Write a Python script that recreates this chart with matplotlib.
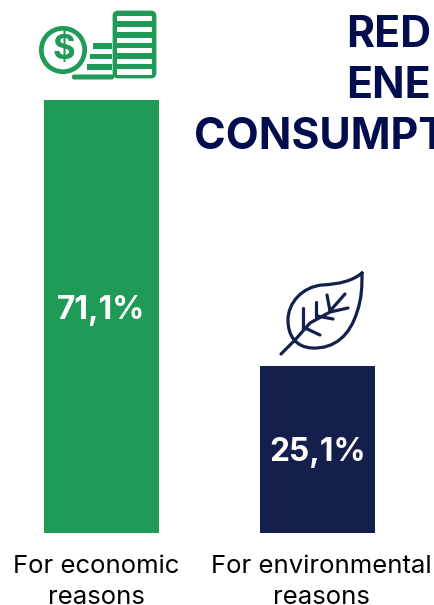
import matplotlib
matplotlib.use('Agg')
import matplotlib.pyplot as plt
from matplotlib.patches import Circle, FancyBboxPatch, Rectangle, PathPatch
from matplotlib.path import Path

categories = ['For economic\nreasons', 'For environmental\nreasons']
values = [71.1, 25.1]
value_labels = ['71,1%', '25,1%']
title_lines = ['RED', 'ENE', 'CONSUMPT']

GREEN = '#1f9b57'
NAVY = '#151f4b'
TITLE_NAVY = '#020d4d'
W, H = 434, 605

plt.rcParams['font.family'] = ['Inter', 'DejaVu Sans']

fig = plt.figure(figsize=(W / 100, H / 100), dpi=100)

# the bars sit on a baseline below zero
baseline = -3.9
ax = fig.add_axes([0, (H - 533) / H, 1, 433 / H])
ax.bar([0, 1], [v - baseline for v in values], bottom=baseline,
       width=115 / 216, color=[GREEN, NAVY])
ax.set_xlim(-101.5 / 216, (W - 101.5) / 216)
ax.set_ylim(baseline, max(values))
ax.axis('off')

# overlay in pixel coordinates for the icons and free text
ov = fig.add_axes([0, 0, 1, 1])
ov.set_xlim(0, W)
ov.set_ylim(H, 0)
ov.axis('off')
ov.patch.set_alpha(0)

for label, x, y in zip(value_labels, [101, 318], [310, 453]):
    ov.text(x, y, label, color='white', fontsize=22.8, fontweight='bold',
            ha='center', va='center')

for line, x, y in zip(title_lines, [346.5, 346.5, 193.5], [47, 98, 149]):
    ov.text(x, y, line, color=TITLE_NAVY, fontsize=30.8, fontweight='bold',
            ha='left', va='baseline')

for i, cat in enumerate(categories):
    first, second = cat.split('\n')
    xc = [96.5, 321][i]
    ov.text(xc, 573, first, color='black', fontsize=18.5, ha='center', va='baseline')
    ov.text(xc, 604, second, color='black', fontsize=18.5, ha='center', va='baseline')

# coin stack icon
ov.add_patch(FancyBboxPatch((114, 12), 41, 65, boxstyle='round,pad=0,rounding_size=4',
                            fc=GREEN, ec=GREEN, lw=2))
for top, bot in [(16, 21), (27, 32), (37.5, 43), (48, 53), (59, 64), (69, 75)]:
    ov.add_patch(Rectangle((117, top), 35, bot - top, fc='white', ec='none'))
for x0, y0 in [(93, 43), (90, 53.5), (87, 64)]:
    ov.add_patch(Rectangle((x0, y0), 112 - x0, 5.5, fc=GREEN, ec='none'))
ov.add_patch(FancyBboxPatch((72, 74.5), 42, 5, boxstyle='round,pad=0,rounding_size=2',
                            fc=GREEN, ec='none'))
ov.add_patch(Circle((63, 50), 26, fc='white', ec='none'))
ov.add_patch(Circle((63, 50), 21.7, fc='white', ec=GREEN, lw=3.4))
ov.text(64, 50, '$', color=GREEN, fontsize=25, fontweight='bold', ha='center', va='center')

# leaf icon
leaf = Path(
    [(362, 273), (352, 281), (340, 284), (322, 285),
     (302, 287), (288, 303), (288, 320),
     (288, 335), (295, 347), (312, 348),
     (335, 349), (350, 335), (357, 312),
     (362, 298), (362, 285), (362, 273)],
    [Path.MOVETO, Path.CURVE4, Path.CURVE4, Path.CURVE4,
     Path.CURVE4, Path.CURVE4, Path.CURVE4,
     Path.CURVE4, Path.CURVE4, Path.CURVE4,
     Path.CURVE4, Path.CURVE4, Path.CURVE4,
     Path.CURVE4, Path.CURVE4, Path.CURVE4])
ov.add_patch(PathPatch(leaf, fc='none', ec=NAVY, lw=2.3, capstyle='round', joinstyle='round'))
veins = [
    [(281, 354), (295, 340), (310, 323), (330, 312), (348, 308)],
    [(303, 308), (303, 329)],
    [(316, 302), (316, 317)],
    [(327, 295), (330, 311)],
    [(345, 294), (330, 311)],
    [(305, 328), (320, 335)],
    [(317, 316), (333, 319)],
]
for pts in veins:
    ov.plot([p[0] for p in pts], [p[1] for p in pts], color=NAVY, lw=2.3,
            solid_capstyle='round', solid_joinstyle='round')

fig.savefig('out.png', dpi=100)
